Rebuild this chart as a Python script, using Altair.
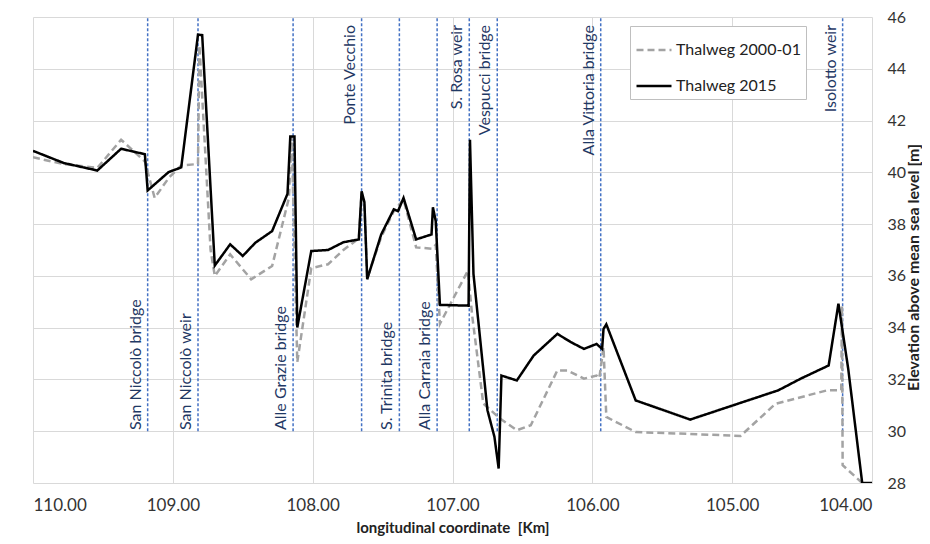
import altair as alt
import pandas as pd

series_names = ["Thalweg 2000-01", "Thalweg 2015"]

km_2000 = [110.00, 109.78, 109.54, 109.37, 109.20, 109.13, 109.03, 108.94, 108.82, 108.81,
           108.73, 108.70, 108.59, 108.44, 108.29, 108.17, 108.15, 108.11, 108.01, 107.89,
           107.78, 107.67, 107.65, 107.63, 107.61, 107.51, 107.42, 107.35, 107.26, 107.15,
           107.12, 107.09, 106.89, 106.86, 106.78, 106.66, 106.54, 106.44, 106.25, 106.18,
           106.06, 105.97, 105.95, 105.92, 105.90, 105.69, 104.94, 104.69, 104.32, 104.22,
           104.215, 104.21, 104.07]
elev_2000 = [40.58, 40.32, 40.17, 41.26, 40.42, 39.01, 39.78, 40.27, 40.32, 44.90,
             37.00, 36.00, 36.83, 35.87, 36.38, 39.01, 41.40, 32.67, 36.30, 36.45,
             37.00, 37.45, 39.20, 38.70, 35.90, 37.50, 38.50, 38.95, 37.10, 37.05,
             37.20, 34.15, 36.20, 34.50, 31.07, 30.49, 30.04, 30.23, 32.35, 32.35,
             32.03, 32.15, 32.05, 33.24, 30.55, 29.97, 29.82, 31.06, 31.58, 31.58,
             34.85, 28.69, 28.00]

km_2015 = [110.00, 109.78, 109.54, 109.37, 109.20, 109.18, 109.03, 108.94, 108.82, 108.79,
           108.70, 108.59, 108.50, 108.41, 108.29, 108.18, 108.16, 108.13, 108.11, 108.01,
           107.89, 107.78, 107.67, 107.65, 107.63, 107.61, 107.51, 107.42, 107.39, 107.35,
           107.26, 107.15, 107.14, 107.12, 107.09, 106.885, 106.875, 106.85, 106.75, 106.70,
           106.67, 106.65, 106.54, 106.42, 106.25, 106.15, 106.06, 105.97, 105.93, 105.92,
           105.90, 105.69, 105.30, 104.67, 104.51, 104.31, 104.24, 104.17, 104.07, 104.00]
elev_2015 = [40.83, 40.36, 40.07, 40.91, 40.70, 39.30, 40.01, 40.19, 45.32, 45.30,
             36.40, 37.22, 36.77, 37.28, 37.73, 39.17, 41.38, 41.38, 34.01, 36.96,
             37.00, 37.30, 37.41, 39.27, 38.85, 35.87, 37.60, 38.57, 38.50, 39.01,
             37.41, 37.60, 38.65, 38.12, 34.88, 34.85, 41.26, 36.07, 30.81, 29.78,
             28.56, 32.15, 31.96, 32.92, 33.76, 33.43, 33.18, 33.37, 33.18, 33.95,
             34.13, 31.19, 30.45, 31.58, 32.03, 32.54, 34.93, 32.41, 28.00, 28.00]

site_names = ["San Niccolò bridge", "San Niccolò weir", "Alle Grazie bridge", "Ponte Vecchio",
              "S. Trinita bridge", "Alla Carraia bridge", "S. Rosa weir", "Vespucci bridge",
              "Alla Vittoria bridge", "Isolotto weir"]
site_km = [109.18, 108.82, 108.14, 107.65, 107.38, 107.11, 106.88, 106.68, 105.94, 104.21]
site_label_pos = ["bottom", "bottom", "bottom", "top", "bottom", "bottom", "top", "top", "top", "top"]

x_ticks = [104, 105, 106, 107, 108, 109, 110]
y_ticks = [28, 30, 32, 34, 36, 38, 40, 42, 44, 46]

rows = []
for name, kms, els in [(series_names[0], km_2000, elev_2000), (series_names[1], km_2015, elev_2015)]:
    for i, (k, e) in enumerate(zip(kms, els)):
        rows.append({"series": name, "km": k, "elev": e, "idx": i})
df = pd.DataFrame(rows)
sites = pd.DataFrame({"name": site_names, "km": site_km, "pos": site_label_pos})

FONT = "Lato"
x_scale = alt.Scale(domain=[104, 110], reverse=True, nice=False, zero=False)
y_scale = alt.Scale(domain=[28, 46], nice=False, zero=False)

x_axis = alt.Axis(values=x_ticks, format=".2f", grid=True, gridColor="#d9d9d9", domain=False,
                  ticks=False, labelFontSize=17, labelFont=FONT, labelColor="#333333",
                  labelPadding=14, title="longitudinal coordinate \u00a0[Km]", titleFont=FONT,
                  titleFontSize=15, titleFontWeight="bold", titleColor="#222222",
                  titleY=44, titleBaseline="middle")
y_axis = alt.Axis(orient="right", values=y_ticks, grid=True, gridColor="#d9d9d9", domain=False,
                  ticks=False, labelFontSize=16, labelFont=FONT, labelColor="#333333",
                  labelPadding=15, title="Elevation above mean sea level [m]", titleFont=FONT,
                  titleFontSize=16, titleFontWeight="bold", titleColor="#222222",
                  titleAngle=270, titleX=49, titleY=250, titleAlign="center",
                  titleBaseline="bottom")

legend = alt.Legend(title=None, orient="none", legendX=597, legendY=9, fillColor="white",
                    strokeColor="#bfbfbf", padding=5, symbolType="stroke", symbolSize=1225,
                    symbolStrokeWidth=2.5, labelFontSize=16, labelFont=FONT, labelColor="#222222",
                    labelOffset=3, rowPadding=9)

lines = alt.Chart(df).mark_line(strokeWidth=2.5, clip=True).encode(
    x=alt.X("km:Q", scale=x_scale, axis=x_axis),
    y=alt.Y("elev:Q", scale=y_scale, axis=y_axis),
    color=alt.Color("series:N", scale=alt.Scale(domain=series_names, range=["#a3a3a3", "#000000"]),
                    legend=legend),
    strokeDash=alt.StrokeDash("series:N", scale=alt.Scale(domain=series_names, range=[[7, 4], [1, 0]]),
                              legend=legend),
    order=alt.Order("idx:Q"),
)

rules = alt.Chart(sites).mark_rule(color="#4472c4", strokeDash=[3, 2], strokeWidth=1.5).encode(
    x=alt.X("km:Q", scale=x_scale),
    y=alt.datum(30),
    y2=alt.datum(46),
)

top_text = alt.Chart(sites).transform_filter(alt.datum.pos == "top").mark_text(
    angle=270, align="right", baseline="bottom", dy=-4, font=FONT, fontSize=16, color="#1f3864"
).encode(x=alt.X("km:Q", scale=x_scale), y=alt.value(8), text="name:N")

bottom_text = alt.Chart(sites).transform_filter(alt.datum.pos == "bottom").mark_text(
    angle=270, align="left", baseline="bottom", dy=-4, font=FONT, fontSize=16, color="#1f3864"
).encode(x=alt.X("km:Q", scale=x_scale), y=alt.value(413), text="name:N")

chart = alt.layer(rules, top_text, bottom_text, lines).properties(
    width=839, height=466,
    autosize=alt.AutoSizeParams(type="none"),
    padding={"left": 25, "top": 9, "right": 50, "bottom": 53},
    background="white",
).configure_view(stroke=None)

chart.save("out.html", embed_options={"renderer": "svg", "actions": False})
